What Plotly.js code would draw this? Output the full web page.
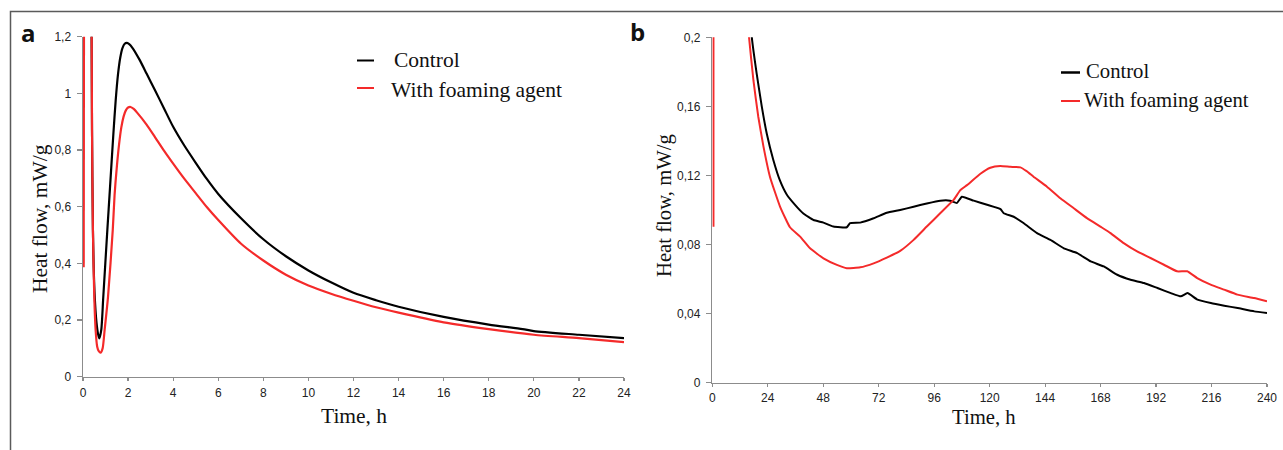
<!DOCTYPE html>
<html>
<head>
<meta charset="utf-8">
<script src="https://cdn.plot.ly/plotly-3.0.1.min.js"></script>
<style>
  html, body { margin: 0; padding: 0; background: #ffffff; }
  #chart { width: 1283px; height: 450px; }
</style>
</head>
<body>
<div id="chart"></div>
<script>
// ---------- Panel a: first 24 h ----------
const timeA_control = [0.375, 0.40, 0.44, 0.51, 0.60, 0.67, 0.725, 0.81, 0.90, 1.08, 1.20, 1.35, 1.45, 1.55, 1.65, 1.75, 1.85, 1.95, 2.05, 2.2, 2.5, 2.82, 3.2, 3.6, 4, 4.5, 5, 5.5, 6, 7, 8, 9, 10, 11, 12, 13, 14, 16, 18, 19.5, 20, 22, 24];
const heatA_control = [1.3, 0.87, 0.52, 0.30, 0.19, 0.15, 0.135, 0.165, 0.282, 0.518, 0.67, 0.86, 0.975, 1.065, 1.125, 1.16, 1.175, 1.178, 1.174, 1.16, 1.12, 1.07, 1.01, 0.946, 0.882, 0.815, 0.755, 0.697, 0.645, 0.56, 0.485, 0.425, 0.375, 0.333, 0.296, 0.27, 0.247, 0.211, 0.184, 0.168, 0.161, 0.148, 0.136];

const timeA_foam = [0.03, 0.044, null, 0.38, 0.40, 0.44, 0.50, 0.56, 0.63, 0.70, 0.785, 0.87, 0.96, 1.11, 1.32, 1.40, 1.50, 1.60, 1.70, 1.80, 1.90, 2.0, 2.11, 2.25, 2.4, 2.82, 3.2, 3.6, 4, 4.5, 5, 5.5, 6, 7, 8, 9, 10, 11, 12, 13, 14, 16, 18, 20, 22, 24];
const heatA_foam = [0.386, 1.3, null, 1.3, 0.871, 0.518, 0.282, 0.165, 0.106, 0.09, 0.085, 0.10, 0.165, 0.282, 0.518, 0.64, 0.74, 0.82, 0.88, 0.918, 0.940, 0.950, 0.952, 0.945, 0.932, 0.89, 0.845, 0.797, 0.752, 0.698, 0.648, 0.598, 0.553, 0.47, 0.41, 0.36, 0.322, 0.293, 0.268, 0.245, 0.226, 0.192, 0.168, 0.148, 0.136, 0.122];

// ---------- Panel b: 240 h ----------
const timeB_control = [16.6, 17.1, 19.2, 21.4, 23.6, 26.4, 29.3, 32.2, 35.8, 39.4, 43.8, 48.1, 52.4, 58.2, 59.6, 64.0, 69.8, 75.5, 81.3, 87.1, 92.8, 98.6, 102.9, 105.8, 108.0, 113.1, 118.9, 124.7, 126.1, 130.4, 134.8, 140.5, 146.3, 152.1, 157.9, 163.7, 169.4, 175.2, 181.0, 186.8, 192.6, 198.4, 202.7, 205.6, 209.9, 215.7, 221.5, 227.3, 234.5, 240];
const heatB_control = [0.21, 0.2, 0.179, 0.160, 0.144, 0.129, 0.117, 0.109, 0.103, 0.098, 0.0942, 0.0927, 0.0904, 0.0900, 0.0924, 0.0927, 0.0952, 0.0984, 0.1000, 0.1019, 0.1038, 0.1054, 0.1054, 0.1040, 0.1077, 0.1054, 0.1030, 0.1005, 0.0981, 0.0961, 0.0923, 0.0866, 0.0827, 0.0778, 0.0750, 0.0702, 0.0673, 0.0625, 0.0596, 0.0577, 0.0548, 0.0519, 0.0500, 0.0519, 0.0481, 0.0461, 0.0446, 0.0432, 0.0413, 0.0404];

const timeB_foam = [0.5, 0.5, null, 15.4, 15.9, 17.8, 19.9, 22.1, 25.0, 29.3, 33.6, 38.0, 42.3, 48.1, 53.9, 58.2, 64.0, 69.8, 75.5, 81.3, 87.1, 92.8, 98.6, 104.4, 107.3, 110.2, 116.0, 120.3, 124.6, 128.9, 133.3, 136.0, 139.0, 144.8, 150.6, 156.4, 162.1, 167.9, 172.3, 178.0, 183.8, 189.6, 195.4, 201.1, 205.5, 209.8, 215.6, 221.4, 227.2, 234.4, 240];
const heatB_foam = [0.0903, 0.21, null, 0.21, 0.2, 0.175, 0.154, 0.137, 0.119, 0.102, 0.090, 0.0846, 0.0778, 0.0720, 0.0682, 0.0663, 0.0668, 0.0691, 0.0724, 0.0763, 0.0827, 0.0904, 0.0981, 0.1058, 0.1115, 0.1144, 0.1210, 0.1245, 0.1255, 0.1250, 0.1247, 0.1225, 0.1193, 0.1135, 0.1068, 0.1010, 0.0953, 0.0904, 0.0866, 0.0808, 0.0760, 0.0722, 0.0683, 0.0645, 0.0645, 0.0606, 0.0568, 0.0539, 0.0510, 0.0490, 0.0471];

// ---------- Ticks and labels ----------
const ticksA_x = [0, 2, 4, 6, 8, 10, 12, 14, 16, 18, 20, 22, 24];
const ticksA_y = [0, 0.2, 0.4, 0.6, 0.8, 1, 1.2];
const labelsA_y = ["0", "0,2", "0,4", "0,6", "0,8", "1", "1,2"];
const ticksB_x = [0, 24, 48, 72, 96, 120, 144, 168, 192, 216, 240];
const ticksB_y = [0, 0.04, 0.08, 0.12, 0.16, 0.2];
const labelsB_y = ["0", "0,04", "0,08", "0,12", "0,16", "0,2"];

const seriesNames = ["Control", "With foaming agent"];
const panelLabels = ["a", "b"];
const xTitle = "Time, h";
const yTitle = "Heat flow, mW/g";

// ---------- Styling ----------
const W = 1283, H = 450;
const px = v => v / W;
const py = v => 1 - v / H;
const BLACK = "#000000";
const RED = "#f42a2a";
const AXIS = "#8c8c8c";
const SERIF = "Liberation Serif, Times New Roman, serif";
const SANS = "Liberation Sans, Arial, sans-serif";

const traces = [
  { x: timeA_control, y: heatA_control, xaxis: "x", yaxis: "y", type: "scatter", mode: "lines",
    name: seriesNames[0], line: { color: BLACK, width: 2.2, shape: "spline", smoothing: 0.7 }, connectgaps: false },
  { x: timeA_foam, y: heatA_foam, xaxis: "x", yaxis: "y", type: "scatter", mode: "lines",
    name: seriesNames[1], line: { color: RED, width: 2.2, shape: "spline", smoothing: 0.7 }, connectgaps: false },
  { x: timeB_control, y: heatB_control, xaxis: "x2", yaxis: "y2", type: "scatter", mode: "lines",
    name: seriesNames[0], line: { color: BLACK, width: 2, shape: "spline", smoothing: 0.4 }, connectgaps: false },
  { x: timeB_foam, y: heatB_foam, xaxis: "x2", yaxis: "y2", type: "scatter", mode: "lines",
    name: seriesNames[1], line: { color: RED, width: 2, shape: "spline", smoothing: 0.4 }, connectgaps: false }
];

function xAxisBase(standoff) {
  return {
    showgrid: false, zeroline: false, showline: true, linecolor: AXIS, linewidth: 1.5,
    ticks: "outside", ticklen: 3, tickwidth: 1.2, tickcolor: AXIS, tickmode: "array",
    tickfont: { family: SANS, size: 12, color: "#222" }, ticklabelstandoff: standoff, fixedrange: true
  };
}
function yAxisBase() {
  return {
    showgrid: false, zeroline: false, showline: true, linecolor: AXIS, linewidth: 1.5,
    ticks: "outside", ticklen: 5, tickwidth: 1.2, tickcolor: AXIS, tickmode: "array",
    tickfont: { family: SANS, size: 12, color: "#222" }, ticklabelstandoff: 3, fixedrange: true
  };
}

const layout = {
  width: W, height: H,
  margin: { l: 0, r: 0, t: 0, b: 0 },
  paper_bgcolor: "#ffffff", plot_bgcolor: "#ffffff",
  showlegend: false,
  xaxis: Object.assign(xAxisBase(1), { domain: [px(83), px(624)], range: [0, 24], anchor: "y",
    tickvals: ticksA_x, ticktext: ticksA_x.map(String) }),
  yaxis: Object.assign(yAxisBase(), { domain: [py(376.7), py(36.7)], range: [0, 1.2], anchor: "x",
    tickvals: ticksA_y, ticktext: labelsA_y }),
  xaxis2: Object.assign(xAxisBase(0), { domain: [px(712.3), px(1267)], range: [0, 240], anchor: "y2",
    tickvals: ticksB_x, ticktext: ticksB_x.map(String) }),
  yaxis2: Object.assign(yAxisBase(), { domain: [py(382.7), py(37.3)], range: [0, 0.2], anchor: "x2",
    tickvals: ticksB_y, ticktext: labelsB_y }),
  shapes: [
    { type: "rect", xref: "paper", yref: "paper", x0: px(10.5), y0: py(11.5), x1: px(1300), y1: py(470),
      line: { color: "#5a5a5a", width: 1.5 }, fillcolor: "rgba(0,0,0,0)", layer: "below" },
    // legend samples, panel a
    { type: "line", xref: "paper", yref: "paper", x0: px(357), x1: px(374), y0: py(60.5), y1: py(60.5),
      line: { color: BLACK, width: 2 } },
    { type: "line", xref: "paper", yref: "paper", x0: px(357), x1: px(374), y0: py(88), y1: py(88),
      line: { color: RED, width: 2 } },
    // legend samples, panel b
    { type: "line", xref: "paper", yref: "paper", x0: px(1061), x1: px(1080), y0: py(72.5), y1: py(72.5),
      line: { color: BLACK, width: 2.5 } },
    { type: "line", xref: "paper", yref: "paper", x0: px(1061), x1: px(1080), y0: py(101), y1: py(101),
      line: { color: RED, width: 2 } }
  ],
  annotations: [
    { text: "<b>" + panelLabels[0] + "</b>", xref: "paper", yref: "paper", x: px(28), y: py(32),
      xanchor: "center", yanchor: "middle", showarrow: false, font: { family: "Open Sans, sans-serif", size: 24, color: "#111" } },
    { text: "<b>" + panelLabels[1] + "</b>", xref: "paper", yref: "paper", x: px(637.5), y: py(31),
      xanchor: "center", yanchor: "middle", showarrow: false, font: { family: "Open Sans, sans-serif", size: 24, color: "#111" } },
    // axis titles panel a
    { text: xTitle, xref: "paper", yref: "paper", x: px(354), y: py(416), xanchor: "center", yanchor: "middle",
      showarrow: false, font: { family: SERIF, size: 21.5, color: "#111" } },
    { text: yTitle, xref: "paper", yref: "paper", x: px(40), y: py(219), xanchor: "center", yanchor: "middle",
      textangle: -90, showarrow: false, font: { family: SERIF, size: 21.5, color: "#111" } },
    // axis titles panel b
    { text: xTitle, xref: "paper", yref: "paper", x: px(984), y: py(417), xanchor: "center", yanchor: "middle",
      showarrow: false, font: { family: SERIF, size: 20.7, color: "#111" } },
    { text: yTitle, xref: "paper", yref: "paper", x: px(664), y: py(206), xanchor: "center", yanchor: "middle",
      textangle: -90, showarrow: false, font: { family: SERIF, size: 20.7, color: "#111" } },
    // legend text panel a
    { text: seriesNames[0], xref: "paper", yref: "paper", x: px(392), y: py(60), xanchor: "left", yanchor: "middle",
      showarrow: false, font: { family: SERIF, size: 21.5, color: "#111" } },
    { text: seriesNames[1], xref: "paper", yref: "paper", x: px(388.5), y: py(90), xanchor: "left", yanchor: "middle",
      showarrow: false, font: { family: SERIF, size: 21.5, color: "#111" } },
    // legend text panel b
    { text: seriesNames[0], xref: "paper", yref: "paper", x: px(1084), y: py(71), xanchor: "left", yanchor: "middle",
      showarrow: false, font: { family: SERIF, size: 20.7, color: "#111" } },
    { text: seriesNames[1], xref: "paper", yref: "paper", x: px(1082), y: py(100), xanchor: "left", yanchor: "middle",
      showarrow: false, font: { family: SERIF, size: 20.7, color: "#111" } }
  ]
};

Plotly.newPlot("chart", traces, layout, { displayModeBar: false, staticPlot: true });
</script>
</body>
</html>
